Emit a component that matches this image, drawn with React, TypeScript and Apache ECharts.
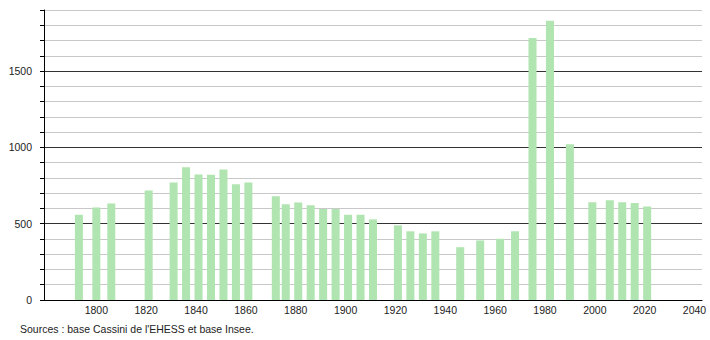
import React, { useEffect, useRef } from "react";
import * as echarts from "echarts";

const years = [1793, 1800, 1806, 1821, 1831, 1836, 1841, 1846, 1851, 1856, 1861, 1872, 1876, 1881, 1886, 1891, 1896, 1901, 1906, 1911, 1921, 1926, 1931, 1936, 1946, 1954, 1962, 1968, 1975, 1982, 1990, 1999, 2006, 2011, 2016, 2021];
const population = [559, 606, 633, 718, 770, 870, 822, 820, 855, 759, 770, 680, 627, 638, 620, 597, 597, 559, 559, 528, 489, 450, 436, 450, 346, 390, 401, 450, 1717, 1829, 1020, 640, 653, 640, 636, 612];
const xTicks = [1800, 1820, 1840, 1860, 1880, 1900, 1920, 1940, 1960, 1980, 2000, 2020, 2040];
const yTicks = [0, 500, 1000, 1500];
const sourceText = "Sources : base Cassini de l'EHESS et base Insee.";

export default function App() {
  const ref = useRef<HTMLDivElement>(null);
  useEffect(() => {
    document.body.style.margin = "0";
    const chart = echarts.init(ref.current!, null, { renderer: "svg" });
    const font = "'Liberation Sans', Arial, sans-serif";
    chart.setOption({
      animation: false,
      backgroundColor: "#ffffff",
      grid: { left: 44, top: 10, right: 8, bottom: 40, containLabel: false },
      xAxis: {
        type: "value",
        min: 1779,
        max: 2043,
        axisLine: { show: true, lineStyle: { color: "#000", width: 1 } },
        axisTick: { show: false },
        splitLine: { show: false },
        axisLabel: {
          customValues: xTicks,
          color: "#222",
          fontSize: 10.5,
          fontFamily: font,
          margin: 4,
          formatter: (v: number) => String(v),
        },
      },
      yAxis: {
        type: "value",
        min: 0,
        max: 1900,
        interval: 100,
        axisLine: { show: true, lineStyle: { color: "#000", width: 1 } },
        axisTick: { show: true, length: 4, lineStyle: { color: "#000" } },
        splitLine: {
          show: true,
          lineStyle: { color: ["#333", "#c8c8c8", "#c8c8c8", "#c8c8c8", "#c8c8c8"], width: 1 },
        },
        axisLabel: {
          color: "#222",
          fontSize: 10.5,
          fontFamily: font,
          margin: 12,
          formatter: (v: number) => (yTicks.includes(v) ? String(v) : ""),
        },
      },
      series: [
        {
          type: "bar",
          barWidth: 8,
          data: years.map((y, i) => [y, population[i]]),
          itemStyle: { color: "#b0e4b0" },
        },
      ],
      graphic: [
        {
          type: "text",
          left: 20,
          top: 323,
          style: { text: sourceText, fontSize: 10.5, fontFamily: font, fill: "#222" },
        },
      ],
    });
    return () => chart.dispose();
  }, []);
  return <div ref={ref} style={{ width: 710, height: 340 }} />;
}
